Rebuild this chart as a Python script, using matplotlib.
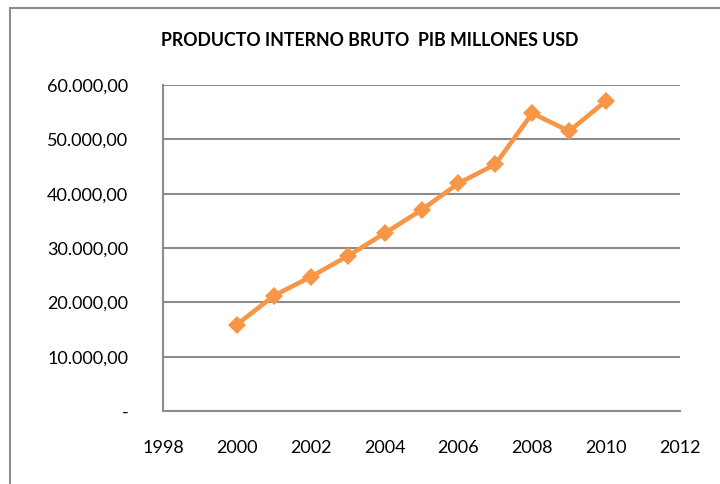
import matplotlib.pyplot as plt
from matplotlib.patches import Rectangle
from matplotlib.ticker import FuncFormatter

plt.rcParams['font.family'] = ['Lato', 'DejaVu Sans']

years = [2000, 2001, 2002, 2003, 2004, 2005, 2006, 2007, 2008, 2009, 2010]
pib = [15900, 21200, 24700, 28500, 32700, 37000, 41900, 45400, 54800, 51500, 57100]

x_ticks = [1998, 2000, 2002, 2004, 2006, 2008, 2010, 2012]
y_ticks = [0, 10000, 20000, 30000, 40000, 50000, 60000]
title = 'PRODUCTO INTERNO BRUTO  PIB MILLONES USD'


def fmt_es(v, pos):
    if v == 0:
        return '-'
    s = '{:,.2f}'.format(v)
    return s.replace(',', 'X').replace('.', ',').replace('X', '.')


fig = plt.figure(figsize=(7.2, 4.84), dpi=100)
# marco exterior del grafico
fig.patches.append(Rectangle((10 / 720, -0.1), 1.0, 1.1 - 8 / 484, transform=fig.transFigure,
                             fill=False, edgecolor='#8c8c8c', linewidth=1.5))

ax = fig.add_axes([163 / 720, 1 - 411 / 484, 517 / 720, 326 / 484])
ax.plot(years, pib, color='#F79646', linewidth=3.3, marker='D', markersize=9.5,
        markeredgewidth=0, zorder=3)

ax.set_xlim(1998, 2012)
ax.set_ylim(0, 60000)
ax.set_xticks(x_ticks)
ax.set_yticks(y_ticks)
ax.yaxis.set_major_formatter(FuncFormatter(fmt_es))
ax.grid(axis='y', color='#8c8c8c', linewidth=1.5)
ax.set_axisbelow(True)
for s in ['top', 'right']:
    ax.spines[s].set_visible(False)
for s in ['left', 'bottom']:
    ax.spines[s].set_color('#8c8c8c')
    ax.spines[s].set_linewidth(1.5)
ax.tick_params(axis='both', length=0, labelsize=13)
ax.tick_params(axis='x', pad=21)
ax.tick_params(axis='y', pad=25)

fig.text(370 / 720, 1 - 41 / 484, title, ha='center', va='center',
         fontsize=12.8, fontweight='bold')

fig.savefig('out.png', dpi=100)
